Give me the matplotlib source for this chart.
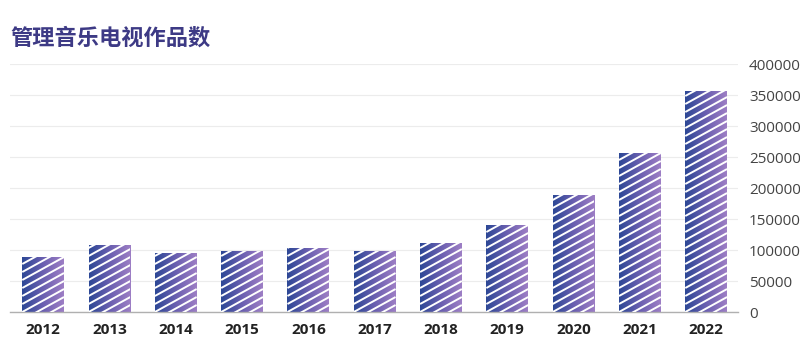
import numpy as np
import matplotlib
matplotlib.use("Agg")
from matplotlib import pyplot as plt
from matplotlib.colors import LinearSegmentedColormap
from matplotlib.collections import LineCollection

plt.rcParams['font.family'] = ['Open Sans', 'Noto Sans CJK SC', 'DejaVu Sans']

title = "管理音乐电视作品数"
years = ["2012", "2013", "2014", "2015", "2016", "2017",
         "2018", "2019", "2020", "2021", "2022"]
counts = [88000, 107500, 95500, 99000, 102500, 99000,
          112000, 140000, 188500, 256000, 357000]
yticks = [0, 50000, 100000, 150000, 200000, 250000, 300000, 350000, 400000]

fig = plt.figure(figsize=(8, 3.59), dpi=100)
ax = fig.add_axes([0.0125, 0.1309, 0.91, 0.6908])

x = np.arange(len(years))
bars = ax.bar(x, counts, width=0.63, color='none', edgecolor='none', zorder=2)

ax.set_xlim(-0.5, len(years) - 0.52)
ax.set_ylim(0, 400000)

# gradient + diagonal stripes inside each bar
cmap = LinearSegmentedColormap.from_list("bar", ["#2d4896", "#6a5fb0", "#9d7ec5"])
grad = np.linspace(0, 1, 64).reshape(1, -1)

fig.canvas.draw()
bb = ax.get_window_extent()
px_x = bb.width / (ax.get_xlim()[1] - ax.get_xlim()[0])
px_y = bb.height / (ax.get_ylim()[1] - ax.get_ylim()[0])
slope = 0.55 * px_x / px_y          # data units of y per unit of x
spacing = 8.0 / px_y                # vertical gap between stripes

for b in bars:
    x0, w, h = b.get_x(), b.get_width(), b.get_height()
    im = ax.imshow(grad, cmap=cmap, aspect='auto', extent=[x0, x0 + w, 0, h],
                   zorder=2, interpolation='bicubic')
    im.set_clip_path(b)
    ks = np.arange(-np.ceil(slope * w / spacing) - 1, np.ceil(h / spacing) + 1)
    segs = [[(x0, k * spacing), (x0 + w, k * spacing + slope * w)] for k in ks]
    lc = LineCollection(segs, colors='white', linewidths=1.4, zorder=3)
    ax.add_collection(lc)
    lc.set_clip_path(b)

ax.set_xlim(-0.5, len(years) - 0.52)
ax.set_ylim(0, 400000)

ax.yaxis.tick_right()
ax.set_yticks(yticks)
ax.set_yticklabels([str(v) for v in yticks], fontsize=11, color='#444444')
ax.tick_params(axis='y', length=0, pad=8)
ax.set_xticks(x)
ax.set_xticklabels(years, fontsize=11, fontweight='bold', color='#222222')
ax.tick_params(axis='x', length=0, pad=8)

ax.grid(axis='y', color='#ececec', linewidth=0.8, zorder=0)
for s in ['top', 'left', 'right']:
    ax.spines[s].set_visible(False)
ax.spines['bottom'].set_color('#b0b0b0')
ax.spines['bottom'].set_linewidth(1.0)

fig.text(0.0125, 0.895, title, fontsize=16, fontweight='bold', color='#3d3a85',
         va='center', ha='left', family=['Noto Sans CJK SC', 'DejaVu Sans'])

fig.savefig("out.png", dpi=100)
